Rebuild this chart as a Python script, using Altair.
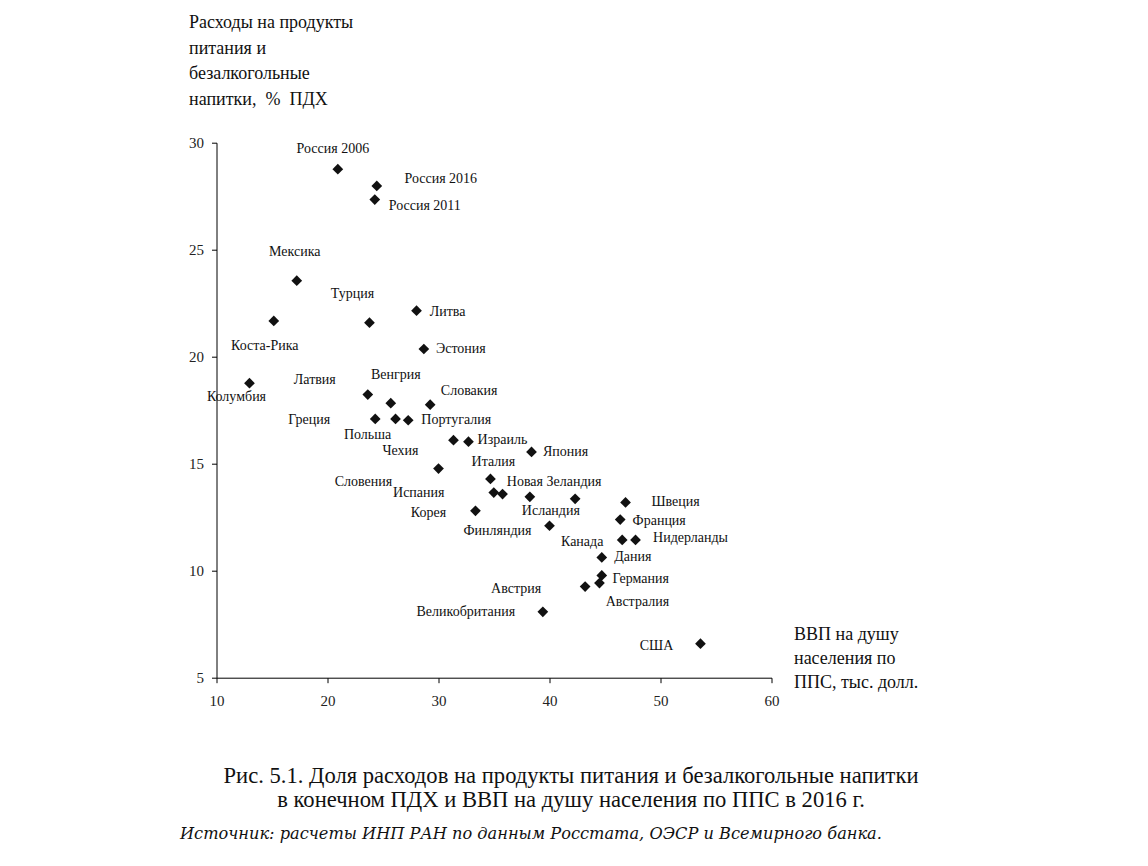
import altair as alt
import pandas as pd

# ---- data ----
labels = ["Россия 2006", "Россия 2016", "Россия 2011", "Мексика", "Коста-Рика",
          "Турция", "Литва", "Эстония", "Колумбия", "Латвия", "Венгрия",
          "Словакия", "Греция", "Польша", "Португалия", "Чехия", "Израиль",
          "Словения", "Италия", "Испания", "", "Корея", "Япония", "Исландия",
          "Новая Зеландия", "Швеция", "Франция", "Финляндия", "Канада",
          "Нидерланды", "Дания", "Германия", "Австралия", "Австрия",
          "Великобритания", "США"]
gdp = [20.93, 24.44, 24.26, 17.23, 15.16, 23.78, 28.02, 28.68, 12.97, 23.63,
       25.70, 29.25, 24.30, 26.13, 27.27, 31.35, 32.70, 30.00, 34.68, 34.98,
       35.77, 33.33, 38.38, 38.23, 42.31, 46.85, 46.37, 40.00, 46.55, 47.75,
       44.71, 44.71, 44.50, 43.21, 39.40, 53.60]
food = [28.76, 27.98, 27.34, 23.55, 21.67, 21.59, 22.15, 20.36, 18.76, 18.23,
        17.83, 17.76, 17.09, 17.09, 17.03, 16.10, 16.03, 14.77, 14.29, 13.65,
        13.58, 12.80, 15.55, 13.45, 13.36, 13.19, 12.39, 12.10, 11.44, 11.44,
        10.62, 9.78, 9.42, 9.26, 8.08, 6.59]

# label placement offsets (pixels) relative to each point
label_dx = [-5, 64, 50, -2, -9, -17, 31, 37, -13, -53, 5, 39, -66, -28, 48,
            -53, 34, -75, 3, -75, 0, -47, 34, 21, -21, 50, 39, -52, -40, 55,
            31, 39, 38, -69, -77, -44]
label_dy = [-20, -7, 6, -29, 25, -29, 1, 0, 14, -15, -28, -14, 1, 16, 0, 11,
            -2, 13, -17, 0, 0, 2, 0, 14, -17, 0, 1, 5, 2, -2, 0, 4, 19, 2, 0, 2]

x_ticks = [10, 20, 30, 40, 50, 60]
y_ticks = [5, 10, 15, 20, 25, 30]

NB = "\u00a0"
y_title = ["Расходы на продукты", "питания и", "безалкогольные",
           f"напитки,{NB}{NB}%{NB}{NB}ПДХ"]
x_title = ["ВВП на душу", "населения по", "ППС, тыс. долл."]
caption = ("Рис. 5.1. Доля расходов на продукты питания и безалкогольные напитки\n"
           "в конечном ПДХ и ВВП на душу населения по ППС в 2016 г.")
source = "Источник: расчеты ИНП РАН по данным Росстата, ОЭСР и Всемирного банка."

df = pd.DataFrame({"label": labels, "gdp": gdp, "food": food,
                   "dx": label_dx, "dy": label_dy})

W, H = 555, 535
PX_X = W / 50.0
PX_Y = H / 25.0
SERIF = "Liberation Serif"

xscale = alt.Scale(domain=[10, 60], nice=False, zero=False)
yscale = alt.Scale(domain=[5, 30], nice=False, zero=False)

points = alt.Chart(df).mark_point(
    shape="diamond", filled=True, size=115, color="#111", opacity=1
).encode(
    x=alt.X("gdp:Q", scale=xscale,
            axis=alt.Axis(values=x_ticks, title=x_title, titleX=577, titleY=-38,
                          titleAlign="left", titleBaseline="alphabetic",
                          titleAngle=0, titleLineHeight=24, titleFontSize=18,
                          titleFont=SERIF, titleFontWeight="normal",
                          titleColor="#111", labelFont=SERIF, labelFontSize=15,
                          labelColor="#222", labelPadding=11, tickSize=5,
                          labelFlush=False, grid=False,
                          domainColor="#000", tickColor="#000")),
    y=alt.Y("food:Q", scale=yscale,
            axis=alt.Axis(values=y_ticks, title=y_title, titleX=-28, titleY=-115,
                          titleAlign="left", titleBaseline="alphabetic",
                          titleAngle=0, titleLineHeight=25.5, titleFontSize=18,
                          titleFont=SERIF, titleFontWeight="normal",
                          titleColor="#111", labelFont=SERIF, labelFontSize=15,
                          labelColor="#222", labelPadding=8, tickSize=5,
                          labelFlush=False, grid=False,
                          domainColor="#000", tickColor="#000")),
)

text = alt.Chart(df).transform_filter(
    "datum.label != ''"
).transform_calculate(
    lx=f"datum.gdp + datum.dx / {PX_X}",
    ly=f"datum.food - datum.dy / {PX_Y}",
).mark_text(
    font=SERIF, fontSize=14, color="#111", align="center", baseline="middle"
).encode(
    x=alt.X("lx:Q", scale=xscale),
    y=alt.Y("ly:Q", scale=yscale),
    text="label:N",
)

one = pd.DataFrame({"k": [0]})
cap = alt.Chart(one).mark_text(
    font=SERIF, fontSize=22.6, color="#111", align="center",
    baseline="alphabetic", lineBreak="\n", lineHeight=24
).encode(x=alt.value(354.5), y=alt.value(640), text=alt.value(caption))

src = alt.Chart(one).mark_text(
    font="DejaVu Serif", fontSize=16.2, fontStyle="italic", color="#111",
    align="left", baseline="alphabetic"
).encode(x=alt.value(-36.5), y=alt.value(696), text=alt.value(source))

chart = alt.layer(points, text, cap, src).properties(
    width=W, height=H,
    autosize=alt.AutoSizeParams(type="none"),
    padding={"left": 208.5, "top": 134.7, "right": 368.5, "bottom": 180.3},
    background="white",
).configure_view(stroke=None)

chart.save("out.html", embed_options={"renderer": "svg", "actions": False})
